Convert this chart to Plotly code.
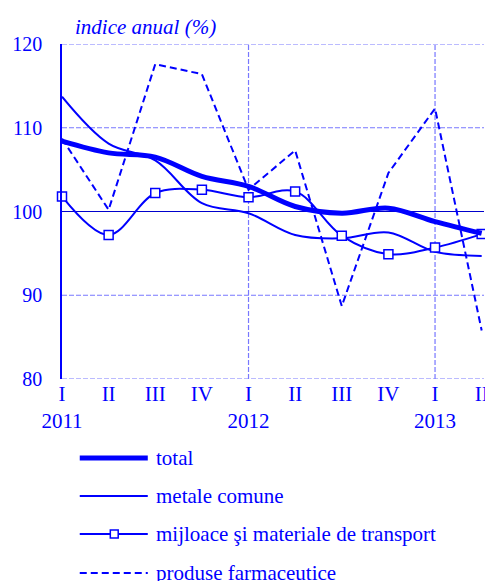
import plotly.graph_objects as go

quarters = ["I<br>2011", "II", "III", "IV", "I<br>2012", "II", "III", "IV", "I<br>2013", "II"]
xpos = list(range(len(quarters)))

total = [108.4, 107.0, 106.5, 104.2, 103.0, 100.6, 99.8, 100.4, 98.8, 97.4]
metale = [113.7, 108.1, 106.1, 101.0, 99.8, 97.2, 96.8, 97.5, 95.2, 94.7]
mijloace = [101.8, 97.2, 102.2, 102.6, 101.7, 102.4, 97.1, 94.9, 95.7, 97.3]
farma = [108.7, 100.2, 117.6, 116.4, 102.6, 107.3, 88.7, 104.6, 112.3, 85.8]

yticks = [80, 90, 100, 110, 120]
names = ["total", "metale comune", "mijloace şi materiale de transport", "produse farmaceutice"]

BLUE = "#0000ff"
GRID = "#7878ff"
FONT = "Liberation Serif"

fig = go.Figure()
fig.add_trace(go.Scatter(x=xpos, y=farma, mode="lines", name=names[3],
                         line=dict(color=BLUE, width=2, dash="7px,4px"), showlegend=False))
fig.add_trace(go.Scatter(x=xpos, y=metale, mode="lines", name=names[1],
                         line=dict(color=BLUE, width=2, shape="spline"), showlegend=False))
fig.add_trace(go.Scatter(x=xpos, y=mijloace, mode="lines+markers", name=names[2],
                         line=dict(color=BLUE, width=2, shape="spline"),
                         marker=dict(symbol="square", size=9, color="white",
                                     line=dict(color=BLUE, width=1.5)),
                         cliponaxis=False, showlegend=False))
fig.add_trace(go.Scatter(x=xpos, y=total, mode="lines", name=names[0],
                         line=dict(color=BLUE, width=5, shape="spline"), showlegend=False))

OFF = 8  # page body margin
W, H = 493 - OFF, 581 - OFF
ml, mt = 61 - OFF, 44 - OFF
mr = W - (489 - OFF)
mb = H - (379 - OFF)
pw = W - ml - mr
ph = H - mt - mb

def px_x(px):
    return (px - OFF - ml) / pw

def px_y(py):
    return 1 - (py - OFF - mt) / ph

shapes = []
for v in yticks:
    if v == 100:
        shapes.append(dict(type="line", xref="paper", yref="y", x0=0, x1=1, y0=v, y1=v,
                           line=dict(color="#0000cc", width=1), layer="below"))
    else:
        shapes.append(dict(type="line", xref="paper", yref="y", x0=0, x1=1, y0=v, y1=v,
                           line=dict(color=GRID, width=1.2, dash="5px,2px"), layer="below"))
for xv in [4, 8]:
    shapes.append(dict(type="line", xref="x", yref="paper", x0=xv, x1=xv, y0=0, y1=1,
                       line=dict(color=GRID, width=1.2, dash="5px,2px"), layer="below"))

annotations = [
    dict(text="<i>indice anual (%)</i>", xref="paper", yref="paper",
         x=px_x(72), y=px_y(27), xanchor="left", yanchor="middle", showarrow=False,
         font=dict(family=FONT, size=21, color=BLUE)),
]

# manual legend
leg_y = [458, 496, 534, 573]
widths = [5, 2, 2, 2]
dashes = ["solid", "solid", "solid", "7px,4px"]
for i, nm in enumerate(names):
    shapes.append(dict(type="line", xref="paper", yref="paper",
                       x0=px_x(79), x1=px_x(148), y0=px_y(leg_y[i]), y1=px_y(leg_y[i]),
                       line=dict(color=BLUE, width=widths[i], dash=dashes[i])))
    annotations.append(dict(text=nm, xref="paper", yref="paper", x=px_x(154), y=px_y(leg_y[i]),
                            xanchor="left", yanchor="middle", showarrow=False,
                            font=dict(family=FONT, size=21, color=BLUE)))
shapes.append(dict(type="rect", xref="paper", yref="paper",
                   x0=px_x(110), x1=px_x(118), y0=px_y(530), y1=px_y(538),
                   fillcolor="white", line=dict(color=BLUE, width=1.5)))

fig.update_layout(
    width=W, height=H,
    margin=dict(l=ml, r=mr, t=mt, b=mb),
    plot_bgcolor="white", paper_bgcolor="white",
    font=dict(family=FONT, size=20, color=BLUE),
    shapes=shapes, annotations=annotations,
    xaxis=dict(range=[0, 9.05], tickvals=xpos, ticktext=quarters, showgrid=False,
               zeroline=False, showline=False, ticks="", ticklabeloverflow="allow",
               tickfont=dict(family=FONT, size=21, color=BLUE)),
    yaxis=dict(range=[80, 120], tickvals=yticks, showgrid=False, zeroline=False,
               showline=True, linecolor=BLUE, linewidth=1.5, ticks="",
               ticklabelstandoff=14,
               tickfont=dict(family=FONT, size=20, color=BLUE)),
)

fig.write_html("out.html")
